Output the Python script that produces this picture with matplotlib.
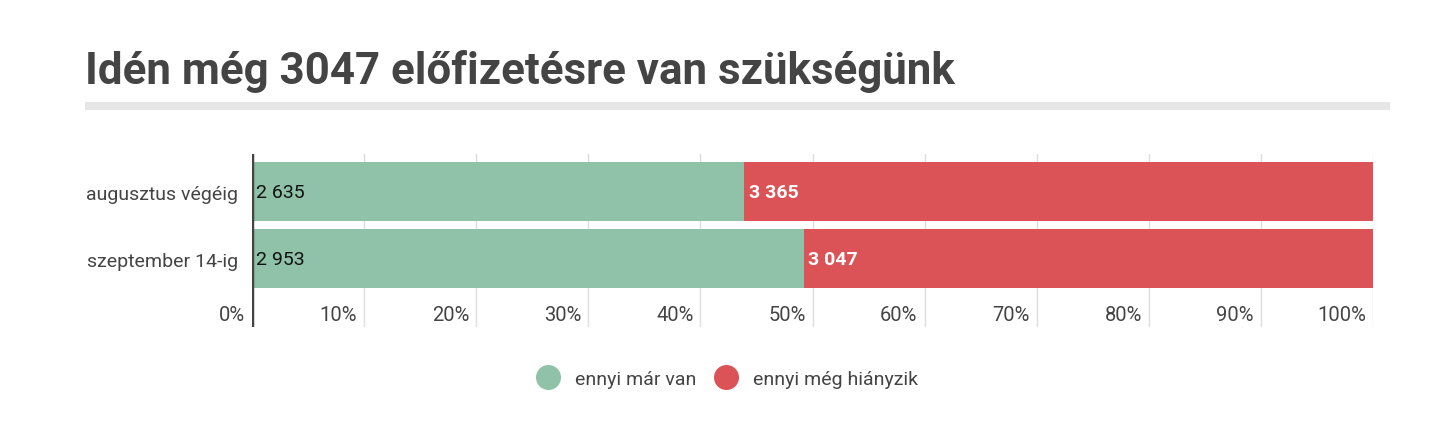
import matplotlib.pyplot as plt
import matplotlib.transforms as mtransforms
from matplotlib.lines import Line2D
import numpy as np

plt.rcParams['font.family'] = ['Roboto', 'DejaVu Sans']

# data
categories = ['augusztus végéig', 'szeptember 14-ig']
have = [2635, 2953]
missing = [3365, 3047]
series_names = ['ennyi már van', 'ennyi még hiányzik']
title = 'Idén még 3047 előfizetésre van szükségünk'
xticks = [0, 10, 20, 30, 40, 50, 60, 70, 80, 90, 100]

GREEN = '#8fc2a8'
RED = '#dc5357'
TEXT = '#444444'

def fmt(v):
    return '{:,}'.format(v).replace(',', ' ')

fig = plt.figure(figsize=(14.56, 4.35), dpi=100)
fig.text(85 / 1456, 1 - 84 / 435, title, fontsize=31.6, fontweight='bold',
         color=TEXT, ha='left', va='baseline')
fig.add_artist(plt.Rectangle((85 / 1456, 1 - 111 / 435), 1305 / 1456, 8 / 435,
                             transform=fig.transFigure, color='#e6e6e6', lw=0))

ax = fig.add_axes([252 / 1456, 1 - 328 / 435, 1121 / 1456, 173 / 435])

have = np.array(have)
missing = np.array(missing)
total = have + missing
p_have = have / total * 100
p_miss = missing / total * 100
y = np.arange(len(categories))

ax.barh(y, p_have, height=0.88, color=GREEN, zorder=2)
ax.barh(y, p_miss, left=p_have, height=0.88, color=RED, zorder=2)

for i in range(len(categories)):
    ax.text(0.4, y[i], fmt(have[i]), va='center', ha='left', fontsize=14, color='#111111', zorder=3)
    ax.text(p_have[i] + 0.4, y[i], fmt(missing[i]), va='center', ha='left', fontsize=14,
            color='white', fontweight='bold', zorder=3)

ax.set_xlim(0, 100)
ax.set_ylim(2.02, -0.56)
for s in ax.spines.values():
    s.set_visible(False)
ax.axvline(0, color=TEXT, lw=2.5, zorder=4)
for t in xticks[1:]:
    ax.axvline(t, color='#dddddd', lw=1, zorder=1)

ax.set_xticks([])
ax.set_yticks(y)
ax.set_yticklabels(categories, fontsize=14, color=TEXT)
ax.tick_params(axis='y', length=0, pad=10)

trans = mtransforms.blended_transform_factory(ax.transData, ax.transAxes)
off = mtransforms.offset_copy(trans, fig=fig, x=-7, y=0, units='dots')
for t in xticks:
    ax.text(t, 0.07, f'{t}%', transform=off, ha='right', va='center', fontsize=14.5, color=TEXT)

handles = [Line2D([], [], marker='o', ls='', markersize=17, color=c) for c in (GREEN, RED)]
fig.legend(handles, series_names, loc='center', bbox_to_anchor=(727 / 1456, 1 - 380 / 435),
           ncol=2, frameon=False, fontsize=14, labelcolor=TEXT, handletextpad=0.8,
           columnspacing=0.9, handlelength=1.2)

fig.savefig('out.png', dpi=100, facecolor='white')
